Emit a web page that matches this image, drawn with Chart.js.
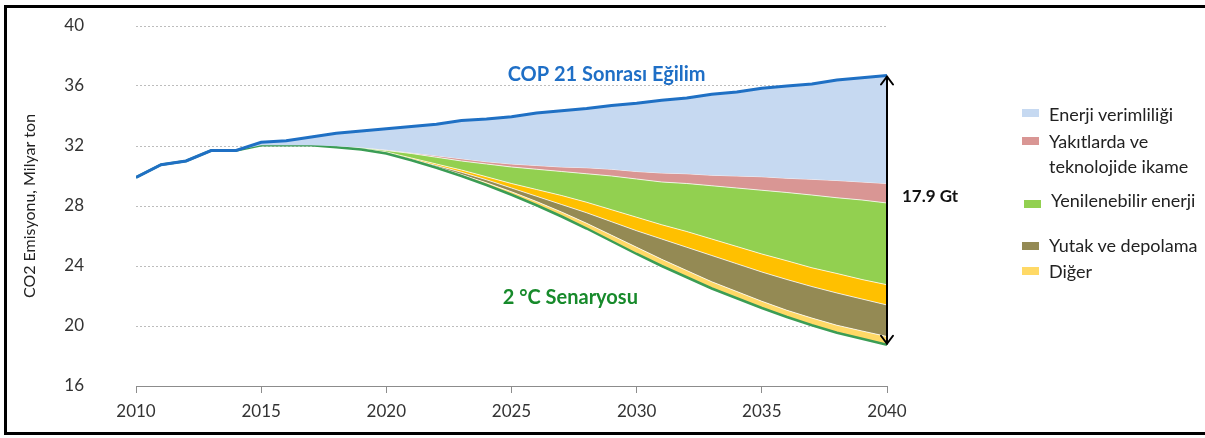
<!DOCTYPE html>
<html>
<head>
<meta charset="utf-8">
<script src="https://cdn.jsdelivr.net/npm/chart.js@4/dist/chart.umd.min.js"></script>
<style>
  html, body { margin: 0; padding: 0; background: #fff; }
  #wrap { position: relative; width: 1205px; height: 438px; overflow: hidden; font-family: Lato, "Open Sans", sans-serif; }
  #frame { position: absolute; left: 4px; top: 5px; width: 1220px; height: 424px; border: 3px solid #000; border-right: none; }
  #c { position: absolute; left: 0; top: 0; }
  .sw { position: absolute; width: 17px; height: 8px; }
  .lt { position: absolute; font-size: 18px; line-height: 25px; color: #222; white-space: nowrap; }
</style>
</head>
<body>
<div id="wrap">
  <div id="frame"></div>
  <canvas id="c" width="1205" height="438"></canvas>
  <div id="legend"></div>
</div>
<script>
// ---- data (Gt CO2) ----
const years = [2010,2011,2012,2013,2014,2015,2016,2017,2018,2019,2020,2021,2022,2023,2024,2025,2026,2027,2028,2029,2030,2031,2032,2033,2034,2035,2036,2037,2038,2039,2040];
// 2 °C scenario emissions (bottom line)
const scenario2C = [29.9,30.75,31.0,31.7,31.7,32.05,32.05,32.05,31.92,31.77,31.5,31.05,30.55,30.0,29.4,28.75,28.05,27.3,26.5,25.65,24.8,24.0,23.25,22.5,21.85,21.2,20.6,20.05,19.55,19.15,18.75];
// reductions relative to the post-COP21 trend, stacked upward from the 2 °C line
const digerRed        = [0,0,0,0,0,0,0,0,0.01,0.02,0.03,0.04,0.07,0.1,0.15,0.2,0.25,0.3,0.35,0.4,0.45,0.45,0.45,0.45,0.45,0.45,0.45,0.48,0.5,0.52,0.55];
const yutakRed        = [0,0,0,0,0,0,0,0,0.01,0.01,0.03,0.04,0.08,0.15,0.2,0.25,0.35,0.5,0.7,0.9,1.1,1.35,1.55,1.75,1.85,1.95,2.05,2.1,2.15,2.13,2.1];
const turuncuRed      = [0,0,0,0,0,0,0,0,0.01,0.02,0.04,0.07,0.1,0.15,0.2,0.3,0.45,0.6,0.7,0.8,0.9,0.95,1.05,1.1,1.15,1.2,1.25,1.25,1.3,1.3,1.35];
const yenilenebilirRed= [0,0,0,0,0,0,0,0,0.02,0.06,0.1,0.3,0.45,0.6,0.85,1.1,1.35,1.6,1.9,2.25,2.55,2.85,3.2,3.55,3.9,4.25,4.55,4.85,5.05,5.3,5.45];
const yakitRed        = [0,0,0,0,0,0,0,0,0.01,0.02,0.05,0.05,0.1,0.15,0.15,0.2,0.25,0.3,0.4,0.45,0.5,0.6,0.65,0.7,0.8,0.9,0.95,1.05,1.15,1.2,1.3];
const verimlilikRed   = [0,0,0,0,0,0.2,0.3,0.55,0.87,1.1,1.4,1.75,2.1,2.55,2.85,3.15,3.5,3.75,3.95,4.25,4.55,4.85,5.05,5.4,5.6,5.9,6.15,6.35,6.7,6.95,7.2];
const yTicks = [16,20,24,28,32,36,40];
const xTicks = [2010,2015,2020,2025,2030,2035,2040];
const gapLabel = "17.9 Gt";
const labelTop = "COP 21 Sonrası Eğilim";
const labelBottom = "2 °C Senaryosu";
const yTitle = "CO2 Emisyonu, Milyar ton";

// ---- styles ----
const FONT = 'Lato, "Open Sans", sans-serif';
const layers = [
  { name: "Diğer",                 data: digerRed,         color: "#ffd966", legend: true },
  { name: "Yutak ve depolama",     data: yutakRed,         color: "#948a54", legend: true },
  { name: "",                      data: turuncuRed,       color: "#ffc000", legend: false },
  { name: "Yenilenebilir enerji",  data: yenilenebilirRed, color: "#92d050", legend: true },
  { name: "Yakıtlarda ve teknolojide ikame", data: yakitRed, color: "#d99694", legend: true },
  { name: "Enerji verimliliği",    data: verimlilikRed,    color: "#c6d9f1", legend: true }
];

// cumulative boundaries for the bands
const datasets = [];
datasets.push({
  label: "2 °C Senaryosu",
  data: years.map((yr, i) => ({ x: yr, y: scenario2C[i] })),
  borderColor: "#3b9d55", borderWidth: 2.5, fill: false, pointRadius: 0, order: 1
});
let running = scenario2C.slice();
layers.forEach((ly, k) => {
  running = running.map((v, i) => +(v + ly.data[i]).toFixed(3));
  const isTop = k === layers.length - 1;
  datasets.push({
    label: ly.name,
    data: years.map((yr, i) => ({ x: yr, y: running[i] })),
    backgroundColor: ly.color,
    borderColor: isTop ? "#1f70c4" : "rgba(255,255,255,0.75)",
    borderWidth: isTop ? 3 : 1,
    fill: "-1", pointRadius: 0, order: isTop ? 0 : 1
  });
});
const topLine = running;

const annot = {
  id: "annot",
  afterDatasetsDraw(chart) {
    const { ctx, scales: { x, y } } = chart;
    const last = years.length - 1;
    const ax = x.getPixelForValue(years[last]);
    const yTop = y.getPixelForValue(topLine[last]);
    const yBot = y.getPixelForValue(scenario2C[last]);
    ctx.save();
    ctx.strokeStyle = "#000"; ctx.lineWidth = 2; ctx.lineCap = "round"; ctx.lineJoin = "round";
    ctx.beginPath(); ctx.moveTo(ax, yTop + 1); ctx.lineTo(ax, yBot - 1); ctx.stroke();
    ctx.beginPath();
    ctx.moveTo(ax - 6, yTop + 9); ctx.lineTo(ax, yTop + 1); ctx.lineTo(ax + 6, yTop + 9);
    ctx.moveTo(ax - 6, yBot - 9); ctx.lineTo(ax, yBot - 1); ctx.lineTo(ax + 6, yBot - 9);
    ctx.stroke();
    ctx.fillStyle = "#111"; ctx.font = "bold 17px " + FONT;
    ctx.textAlign = "left"; ctx.textBaseline = "middle";
    ctx.fillText(gapLabel, ax + 15, y.getPixelForValue(28.6));
    ctx.textAlign = "center";
    ctx.fillStyle = "#1f6fc6"; ctx.font = "bold 20px " + FONT;
    ctx.fillText(labelTop, x.getPixelForValue(2028.8), y.getPixelForValue(36.75));
    ctx.fillStyle = "#178a2b"; ctx.font = "bold 20px " + FONT;
    ctx.fillText(labelBottom, x.getPixelForValue(2027.35), y.getPixelForValue(21.9));
    ctx.restore();
  }
};

new Chart(document.getElementById("c"), {
  type: "line",
  data: { datasets },
  options: {
    responsive: false, animation: false,
    layout: { padding: { left: 0, right: 318, top: 26, bottom: 0 } },
    plugins: { legend: { display: false }, tooltip: { enabled: false } },
    elements: { line: { tension: 0 } },
    scales: {
      x: {
        type: "linear", min: 2010, max: 2040,
        afterBuildTicks: s => { s.ticks = xTicks.map(v => ({ value: v })); },
        afterFit: s => { s.height = 52; },
        grid: { drawOnChartArea: false, drawTicks: true, tickLength: 7, color: "#8c8c8c" },
        border: { display: true, color: "#8c8c8c", width: 1 },
        ticks: { padding: 8, color: "#333", font: { family: FONT, size: 17 }, callback: v => String(v), maxRotation: 0 }
      },
      y: {
        min: 16, max: 40,
        afterBuildTicks: s => { s.ticks = yTicks.map(v => ({ value: v })); },
        afterFit: s => { s.width = 136; },
        grid: { color: "#bdbdbd", lineWidth: 1, drawTicks: true, tickLength: 50, tickColor: "rgba(0,0,0,0)" },
        border: { display: false, dash: [2, 2] },
        ticks: { padding: 2, color: "#333", font: { family: FONT, size: 17 } },
        title: { display: true, text: yTitle, color: "#222", font: { family: FONT, size: 16 }, padding: { top: 20, bottom: 0 } }
      }
    }
  },
  plugins: [annot]
});

// ---- HTML legend ----
const legendPos = {
  "Enerji verimliliği": { sx: 1022, sy: 109, tx: 1049, ty: 102 },
  "Yakıtlarda ve teknolojide ikame": { sx: 1022, sy: 137, tx: 1049, ty: 129, lines: ["Yakıtlarda ve", "teknolojide ikame"] },
  "Yenilenebilir enerji": { sx: 1024, sy: 200, tx: 1051, ty: 188 },
  "Yutak ve depolama": { sx: 1022, sy: 242, tx: 1049, ty: 233 },
  "Diğer": { sx: 1022, sy: 267, tx: 1049, ty: 259 }
};
const lg = document.getElementById("legend");
layers.slice().reverse().filter(l => l.legend).forEach(l => {
  const p = legendPos[l.name];
  const sw = document.createElement("div");
  sw.className = "sw"; sw.style.left = p.sx + "px"; sw.style.top = p.sy + "px"; sw.style.background = l.color;
  lg.appendChild(sw);
  const t = document.createElement("div");
  t.className = "lt"; t.style.left = p.tx + "px"; t.style.top = p.ty + "px";
  t.innerHTML = (p.lines || [l.name]).join("<br>");
  lg.appendChild(t);
});
</script>
</body>
</html>
